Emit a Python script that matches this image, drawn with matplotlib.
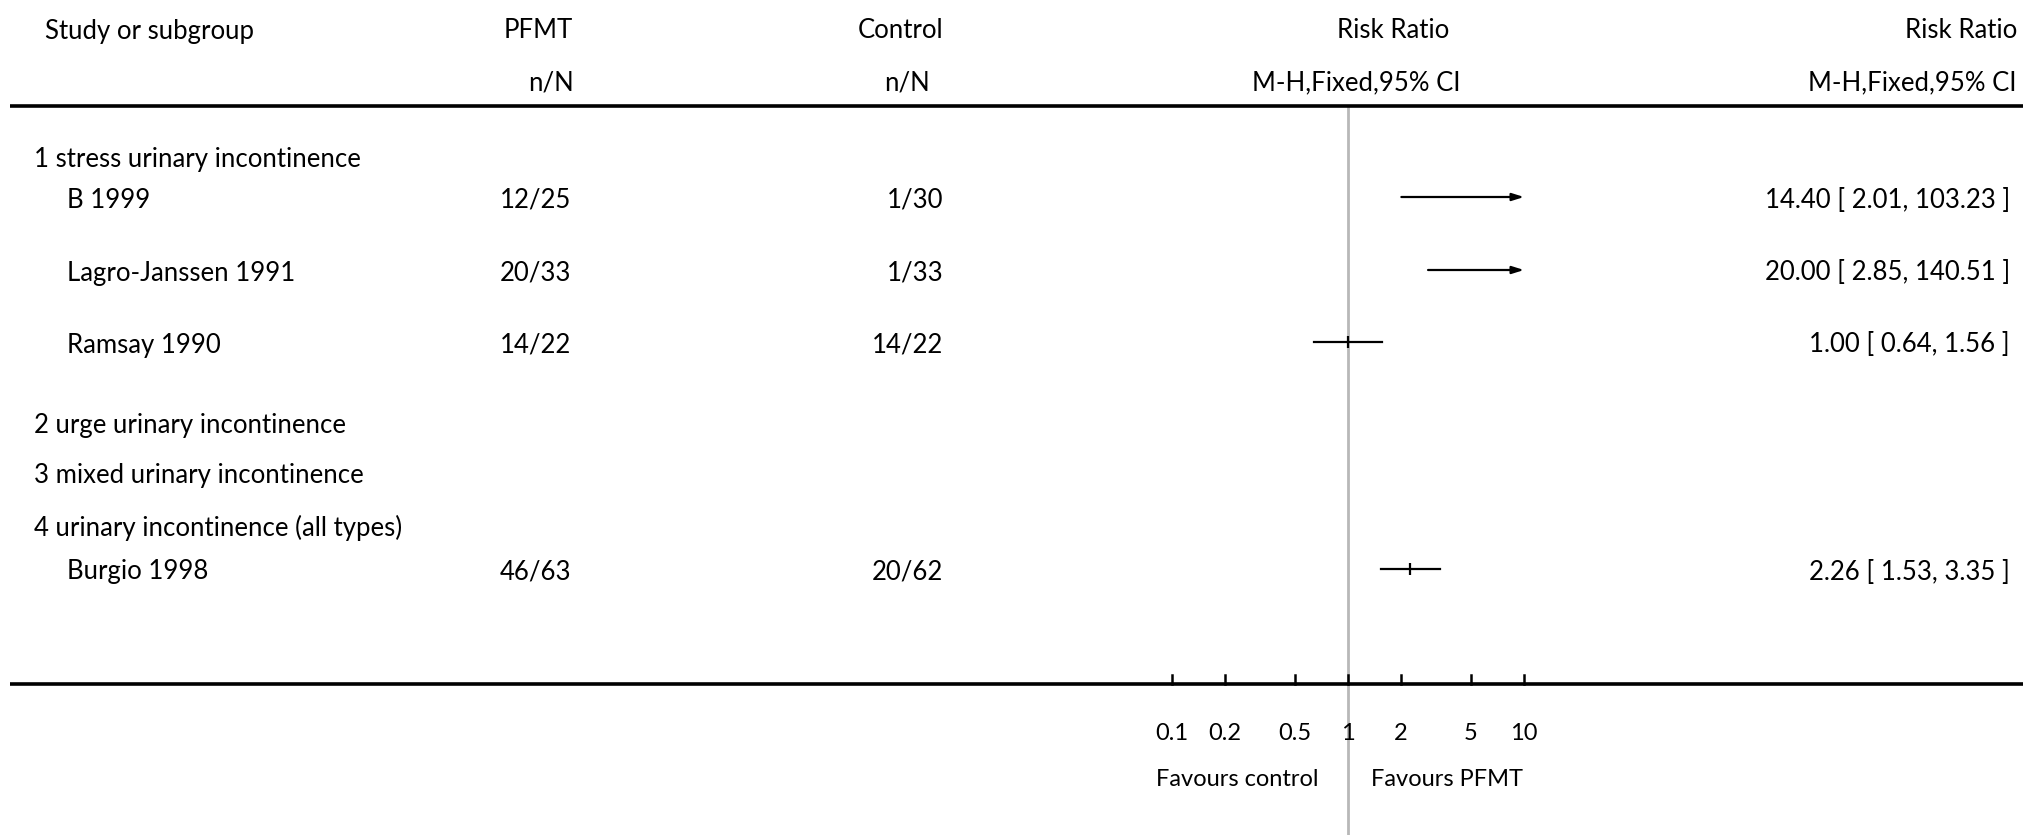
import numpy as np
import matplotlib
matplotlib.use("Agg")
import matplotlib.pyplot as plt

# ---- data -------------------------------------------------------------
subgroups = ["1 stress urinary incontinence",
             "2 urge urinary incontinence",
             "3 mixed urinary incontinence",
             "4 urinary incontinence (all types)"]
studies = ["B 1999", "Lagro-Janssen 1991", "Ramsay 1990", "Burgio 1998"]
pfmt_events = [12, 20, 14, 46]
pfmt_total = [25, 33, 22, 63]
ctrl_events = [1, 1, 14, 20]
ctrl_total = [30, 33, 22, 62]
risk_ratio = [14.40, 20.00, 1.00, 2.26]
ci_low = [2.01, 2.85, 0.64, 1.53]
ci_high = [103.23, 140.51, 1.56, 3.35]
tick_values = [0.1, 0.2, 0.5, 1, 2, 5, 10]
tick_labels = ["0.1", "0.2", "0.5", "1", "2", "5", "10"]

# ---- layout (pixel rows, top = 0) ------------------------------------
W, H = 2023, 835
plot_lo, plot_hi = 0.1, 10          # visible range of the forest plot
px_lo, px_hi = 1172, 1524            # pixel columns of plot_lo / plot_hi
header_y = [31, 83]
header_rule_y = 106
axis_y = 684
subgroup_y = [159, 425, 476, 528]
study_y = [197, 270, 342, 569]
study_text_dy = 3
tick_label_y = 733
favours_y = 780

plt.rcParams['font.family'] = ['Lato', 'DejaVu Sans']
FS = 18.5

fig = plt.figure(figsize=(W / 100, H / 100), dpi=100)
ax = fig.add_axes([0, 0, 1, 1])
ax.set_xscale('log')
decade = (px_hi - px_lo) / (np.log10(plot_hi) - np.log10(plot_lo))
x_left = 10 ** (np.log10(plot_lo) - px_lo / decade)
x_right = 10 ** (np.log10(plot_hi) + (W - px_hi) / decade)
ax.set_xlim(x_left, x_right)
ax.set_ylim(H, 0)
ax.axis('off')


def px(x):
    """Pixel column -> data x on the log axis (used for the text columns)."""
    return 10 ** (np.log10(plot_lo) + (x - px_lo) / decade)


# header
ax.text(px(45), header_y[0], "Study or subgroup", fontsize=FS, va='center', ha='left')
ax.text(px(573), header_y[0], "PFMT", fontsize=FS, va='center', ha='right')
ax.text(px(574), header_y[1], "n/N", fontsize=FS, va='center', ha='right')
ax.text(px(943), header_y[0], "Control", fontsize=FS, va='center', ha='right')
ax.text(px(930), header_y[1], "n/N", fontsize=FS, va='center', ha='right')
ax.text(px(1393), header_y[0], "Risk Ratio", fontsize=FS, va='center', ha='center')
ax.text(px(1356), header_y[1], "M-H,Fixed,95% CI", fontsize=FS, va='center', ha='center')
ax.text(px(2017), header_y[0], "Risk Ratio", fontsize=FS, va='center', ha='right')
ax.text(px(2017), header_y[1], "M-H,Fixed,95% CI", fontsize=FS, va='center', ha='right')

# rules
ax.plot([px(10), px(W)], [header_rule_y, header_rule_y], color='black', lw=2.6,
        solid_capstyle='butt')
ax.plot([px(10), px(W)], [axis_y, axis_y], color='black', lw=2.6,
        solid_capstyle='butt')

# line of no effect
ax.plot([1, 1], [header_rule_y, H], color='#b8b8b8', lw=2.0, zorder=1)

# subgroup headings
for name, y in zip(subgroups, subgroup_y):
    ax.text(px(34), y, name, fontsize=FS, va='center', ha='left')

# study rows
for i, name in enumerate(studies):
    y = study_y[i]
    ty = y + study_text_dy
    ax.text(px(67), ty, name, fontsize=FS, va='center', ha='left')
    ax.text(px(571), ty, f"{pfmt_events[i]}/{pfmt_total[i]}", fontsize=FS,
            va='center', ha='right')
    ax.text(px(943), ty, f"{ctrl_events[i]}/{ctrl_total[i]}", fontsize=FS,
            va='center', ha='right')
    ax.text(px(2010), ty,
            f"{risk_ratio[i]:.2f} [ {ci_low[i]:.2f}, {ci_high[i]:.2f} ]",
            fontsize=FS, va='center', ha='right')

    lo = max(ci_low[i], plot_lo)
    hi = min(ci_high[i], plot_hi)
    if ci_high[i] > plot_hi:
        ax.annotate("", xy=(hi, y), xytext=(lo, y),
                    arrowprops=dict(arrowstyle='-|>,head_length=0.7,head_width=0.22',
                                    color='black', lw=1.6, shrinkA=0, shrinkB=0))
    else:
        ax.plot([lo, hi], [y, y], color='black', lw=1.6)
    if plot_lo <= risk_ratio[i] <= plot_hi:
        ax.plot([risk_ratio[i]], [y], marker='|', color='black', ms=9, mew=1.6)

# axis ticks and labels
for v, lab in zip(tick_values, tick_labels):
    ax.plot([v, v], [axis_y, axis_y - 9], color='black', lw=1.8)
    ax.text(v, tick_label_y, lab, fontsize=FS - 1.5, va='center', ha='center')

ax.text(px(1237), favours_y, "Favours control", fontsize=FS - 1.5, va='center', ha='center')
ax.text(px(1447), favours_y, "Favours PFMT", fontsize=FS - 1.5, va='center', ha='center')

fig.savefig("out.png", dpi=100)
